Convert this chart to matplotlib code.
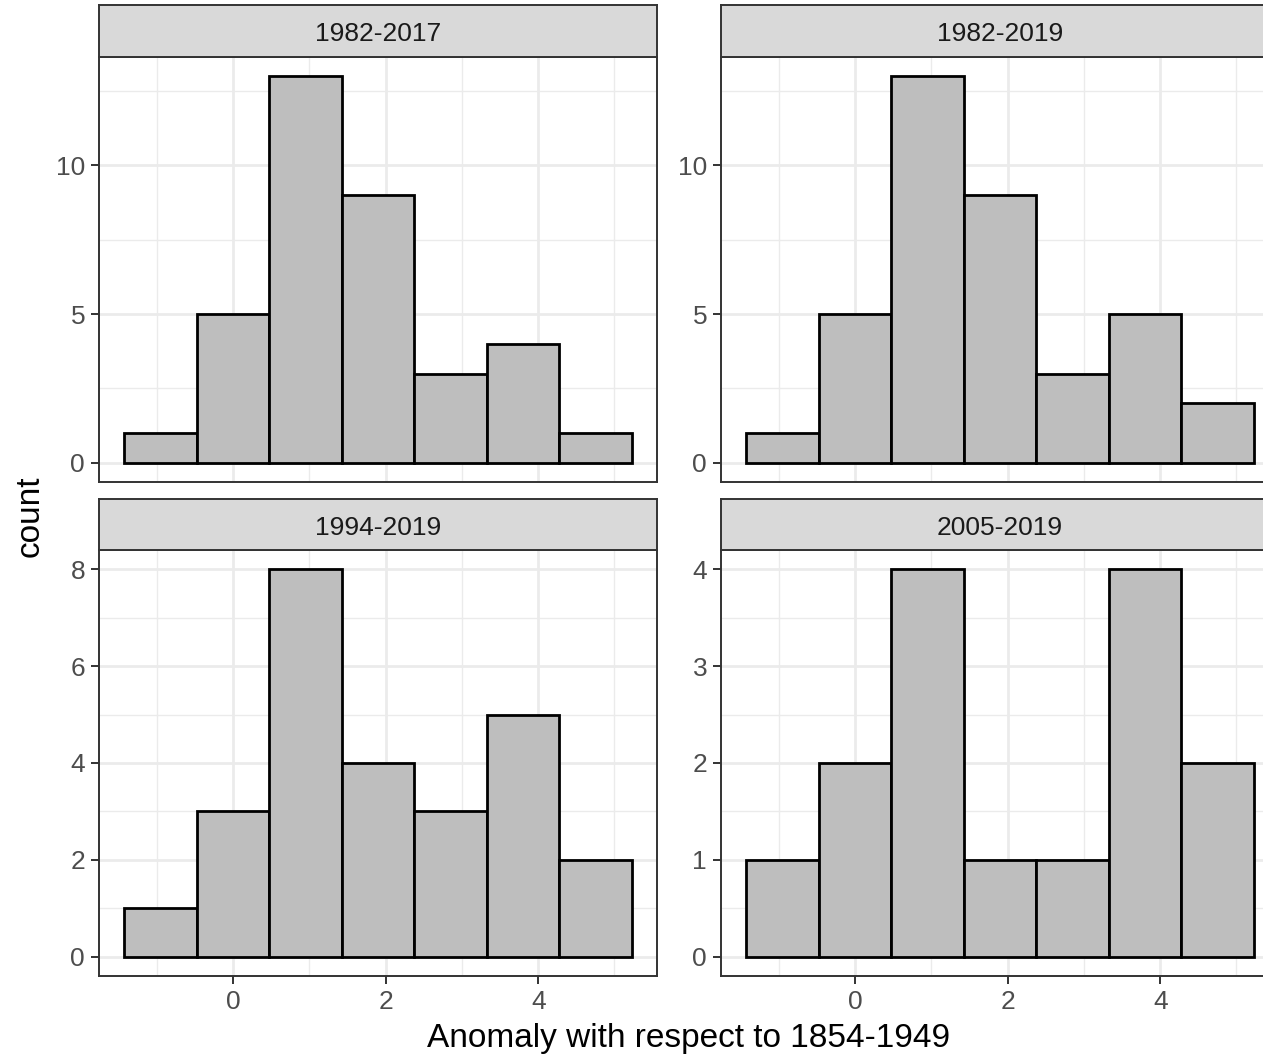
import numpy as np
import matplotlib
matplotlib.use("Agg")
import matplotlib.pyplot as plt

plt.rcParams['font.family'] = ['Liberation Sans', 'DejaVu Sans']

# histogram bins (binwidth 0.95) and counts per period
BIN_WIDTH = 0.95
bin_centers = [-0.95, 0.0, 0.95, 1.90, 2.85, 3.80, 4.75]
periods = ["1982-2017", "1982-2019", "1994-2019", "2005-2019"]
counts_1982_2017 = [1, 5, 13, 9, 3, 4, 1]
counts_1982_2019 = [1, 5, 13, 9, 3, 5, 2]
counts_1994_2019 = [1, 3, 8, 4, 3, 5, 2]
counts_2005_2019 = [1, 2, 4, 1, 1, 4, 2]
all_counts = [counts_1982_2017, counts_1982_2019, counts_1994_2019, counts_2005_2019]

x_ticks = [0, 2, 4]
y_ticks = [[0, 5, 10], [0, 5, 10], [0, 2, 4, 6, 8], [0, 1, 2, 3, 4]]

W, H = 1263, 1055
fig = plt.figure(figsize=(W / 100, H / 100), dpi=100)
fig.patch.set_facecolor('white')

# panel boxes in pixels: (left, right, strip_top, strip_bottom, panel_bottom)
col_x = [(99, 657), (721, 1279)]
row_y = [(5, 57, 482), (499, 550, 976)]

BORDER = '#333333'
GRID = '#EBEBEB'


def px_box(x0, x1, y_top, y_bot):
    return [x0 / W, 1 - y_bot / H, (x1 - x0) / W, (y_bot - y_top) / H]


# shared x range with ggplot-style 5% expansion
lo = bin_centers[0] - BIN_WIDTH / 2
hi = bin_centers[-1] + BIN_WIDTH / 2
pad = 0.05 * (hi - lo)
xlim = (lo - pad, hi + pad)

for i, (period, counts) in enumerate(zip(periods, all_counts)):
    r, c = divmod(i, 2)
    x0, x1 = col_x[c]
    s_top, s_bot, p_bot = row_y[r]

    ax = fig.add_axes(px_box(x0, x1, s_bot, p_bot))
    ymax = max(counts)
    ax.set_xlim(*xlim)
    ax.set_ylim(-0.05 * ymax, ymax * 1.05)

    ax.set_axisbelow(True)
    ax.set_xticks(x_ticks)
    ax.set_xticks([-1, 1, 3, 5], minor=True)
    yt = y_ticks[i]
    step = yt[1] - yt[0]
    ax.set_yticks(yt)
    ax.set_yticks([v + step / 2 for v in yt if v + step / 2 < ymax * 1.05], minor=True)
    ax.grid(which='major', color=GRID, linewidth=2.0)
    ax.grid(which='minor', color=GRID, linewidth=1.0)

    ax.bar(bin_centers, counts, width=BIN_WIDTH, color='#BEBEBE',
           edgecolor='black', linewidth=2.0, zorder=2)

    for sp in ax.spines.values():
        sp.set_color(BORDER)
        sp.set_linewidth(1.4)

    ax.tick_params(which='major', length=6, width=1.4, color=BORDER,
                   labelsize=19, labelcolor='#4D4D4D', pad=4)
    ax.tick_params(which='minor', length=0)
    if r == 0:
        ax.tick_params(axis='x', which='both', labelbottom=False, length=0)

    # facet strip
    sx = fig.add_axes(px_box(x0, x1, s_top, s_bot))
    sx.set_facecolor('#D9D9D9')
    sx.set_xticks([])
    sx.set_yticks([])
    for sp in sx.spines.values():
        sp.set_color(BORDER)
        sp.set_linewidth(1.4)
    sx.text(0.5, 0.44, period, ha='center', va='center', fontsize=19,
            color='#1A1A1A', transform=sx.transAxes)

fig.text(689 / W, 1 - 1039 / H, 'Anomaly with respect to 1854-1949',
         ha='center', va='center', fontsize=24, color='black')
fig.text(30 / W, 1 - 516 / H, 'count', ha='center', va='center',
         rotation=90, fontsize=24, color='black')

fig.savefig('out.png', dpi=100)
